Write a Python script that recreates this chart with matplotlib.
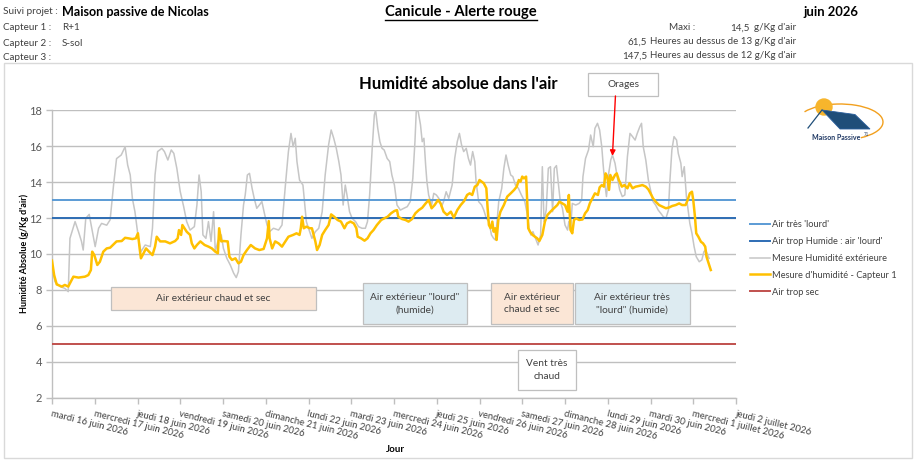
import matplotlib
matplotlib.use("Agg")
import matplotlib.pyplot as plt
from matplotlib.patches import Rectangle, Polygon, Circle, Arc

plt.rcParams['font.family'] = ['Lato', 'DejaVu Sans']

# ---------------- data ----------------
day_labels = ["mardi 16 juin 2026", "mercredi 17 juin 2026", "jeudi 18 juin 2026",
              "vendredi 19 juin 2026", "samedi 20 juin 2026", "dimanche 21 juin 2026",
              "lundi 22 juin 2026", "mardi 23 juin 2026", "mercredi 24 juin 2026",
              "jeudi 25 juin 2026", "vendredi 26 juin 2026", "samedi 27 juin 2026",
              "dimanche 28 juin 2026", "lundi 29 juin 2026", "mardi 30 juin 2026",
              "mercredi 1 juillet 2026", "jeudi 2 juillet 2026"]
y_ticks = [2, 4, 6, 8, 10, 12, 14, 16, 18]

# exterior humidity (time in days since 16 juin 00:00)
ext_days = [0.00, 0.07, 0.19, 0.30, 0.38, 0.42, 0.54, 0.62, 0.69, 0.73, 0.79, 0.87, 0.93,
            1.01, 1.09, 1.16, 1.28, 1.36, 1.44, 1.51, 1.62, 1.71, 1.77, 1.83, 1.88, 1.94,
            2.02, 2.08, 2.18, 2.30, 2.35, 2.41, 2.47, 2.57, 2.63, 2.71, 2.79, 2.85, 2.92,
            3.00, 3.08, 3.15, 3.23, 3.33, 3.39, 3.44, 3.49, 3.53, 3.60, 3.66, 3.72, 3.78,
            3.82, 3.88, 3.96,
            4.01, 4.09, 4.17, 4.25, 4.31, 4.36, 4.42, 4.48, 4.52, 4.57, 4.62, 4.68, 4.73,
            4.79, 4.85, 4.91, 4.96, 5.03, 5.09, 5.18, 5.30, 5.38, 5.46, 5.53, 5.59, 5.64,
            5.69, 5.73, 5.79, 5.87, 5.95, 6.00, 6.08, 6.16, 6.24, 6.32, 6.39, 6.47, 6.53,
            6.59, 6.65, 6.71, 6.76, 6.81, 6.86, 6.90, 6.96, 7.02, 7.10, 7.17, 7.25, 7.33,
            7.38, 7.43, 7.49, 7.54, 7.57, 7.62, 7.67, 7.72, 7.77, 7.84, 7.90, 7.95, 8.01,
            8.07, 8.15, 8.23, 8.31, 8.38, 8.44, 8.49, 8.52, 8.56, 8.62, 8.66, 8.70, 8.74,
            8.77, 8.81, 8.88, 8.93, 8.99, 9.05, 9.11, 9.16, 9.22, 9.28, 9.36, 9.42, 9.48,
            9.53, 9.58, 9.63, 9.69, 9.74, 9.79, 9.84, 9.89, 9.92, 9.98, 10.05, 10.10,
            10.16, 10.22, 10.28, 10.33, 10.37, 10.41, 10.45, 10.52, 10.57, 10.62, 10.67,
            10.73, 10.78, 10.84, 10.91, 10.98, 11.06, 11.12, 11.16, 11.20, 11.25, 11.31,
            11.37, 11.43, 11.47, 11.51, 11.56, 11.61, 11.66, 11.71, 11.75, 11.80, 11.84,
            11.89, 11.94, 12.00, 12.06, 12.09,
            12.13, 12.17, 12.25, 12.33, 12.39, 12.42, 12.48, 12.55, 12.60, 12.66, 12.70,
            12.76, 12.81, 12.86, 12.89, 12.93, 12.97, 13.01, 13.07, 13.11, 13.17, 13.22,
            13.28, 13.34, 13.40, 13.46, 13.52, 13.58, 13.64, 13.69, 13.75, 13.79, 13.83,
            13.89, 13.95, 14.00, 14.06, 14.12, 14.18, 14.24, 14.30, 14.36, 14.42, 14.45,
            14.50, 14.55, 14.61, 14.65, 14.71, 14.74, 14.79, 14.84, 14.89, 14.92, 14.97,
            15.02, 15.07, 15.14, 15.20, 15.25, 15.29, 15.37]
ext_values = [9.3, 8.46, 8.19, 8.09, 7.91, 10.87, 11.8, 11.24, 10.7, 10.22, 11.98, 12.2, 11.43,
              10.41, 11.43, 11.7, 11.6, 11.9, 13.83, 15.3, 15.5, 15.96, 14.94, 14.39, 13.09, 12.35,
              10.87, 10.13, 10.5, 10.41, 11.43, 14.39, 15.69, 15.87, 15.69, 15.22, 15.78, 15.59, 14.76,
              13.46, 12.63, 11.8, 11.33, 11.52, 12.72, 14.39, 13.46, 11.06, 10.87, 11.8, 10.7, 12.35,
              10.13, 10.7, 11.06,
              10.31, 9.76, 9.39, 8.93, 8.69, 9.02, 11.06, 12.72, 13.28, 14.39, 14.48, 13.65, 13.09,
              12.54, 12.72, 12.91, 12.35, 11.61, 11.24, 11.43, 11.33, 11.61, 13.83, 15.69, 16.7, 15.96,
              16.43, 15.13, 14.11, 13.83, 11.8, 11.43, 10.87, 11.24, 11.43, 12.35, 14.39, 16.06, 16.89,
              16.43, 15.87, 15.13, 14.39, 12.72, 13.83, 13.28, 12.35, 11.98, 11.8, 11.52, 11.43, 11.43,
              11.8, 13.28, 15.87, 17.72, 18.0, 16.98, 16.24, 15.87, 15.78, 15.31, 15.13, 14.39, 13.83,
              12.72, 12.44, 12.54, 12.63, 12.91, 14.2, 16.24, 17.91, 18.0, 17.17, 16.24, 16.43, 14.94,
              14.02, 13.28, 12.72, 13.37, 13.28, 13.09, 12.63, 12.91, 13.46, 13.09, 13.83, 15.31, 16.24,
              16.7, 16.06, 15.69, 15.87, 15.31, 14.94, 15.69, 15.13, 14.02, 12.91, 12.72, 12.44,
              11.98, 11.8, 11.06, 10.87, 10.78, 11.8, 12.91, 13.65, 14.76, 15.5, 14.94,
              14.39, 14.3, 13.83, 13.65, 13.28, 12.91, 12.17, 11.43, 11.06, 11.24, 10.87,
              10.5, 11.06, 14.85, 11.8, 12.44, 14.76, 14.85, 12.35, 14.76, 14.91, 14.02,
              12.91, 12.54, 11.61, 11.33, 11.8,
              11.33, 12.81, 12.72, 12.81, 13.0, 14.3, 15.31, 15.78, 16.61, 15.96, 16.98,
              17.26, 16.89, 15.96, 15.04, 13.93, 13.19, 14.3, 15.22, 15.5, 15.04, 14.3,
              13.56, 13.19, 13.28, 15.41, 16.7, 16.52, 16.33, 16.7, 17.07, 17.26, 15.96,
              15.22, 14.11, 13.56, 12.91, 12.72, 12.44, 12.26, 12.07, 11.98, 12.44, 13.93,
              15.78, 16.52, 16.33, 15.59, 15.04, 14.3, 14.85, 13.19, 12.26, 11.7, 11.15,
              10.41, 9.85, 9.57, 9.67, 10.13, 10.22, 9.76]

# sensor 1 humidity
c1_days = [0.00, 0.05, 0.11, 0.23, 0.30, 0.38, 0.42, 0.50, 0.62, 0.77, 0.85, 0.91, 0.94, 0.99,
           1.06, 1.12, 1.20, 1.28, 1.36, 1.44, 1.51, 1.63, 1.71, 1.79, 1.88, 1.96, 2.01, 2.05,
           2.08, 2.14, 2.20, 2.27, 2.35, 2.41, 2.45, 2.53, 2.65, 2.76, 2.88, 2.94, 2.97, 3.02,
           3.05, 3.10, 3.15, 3.23, 3.27, 3.33, 3.39, 3.47, 3.57, 3.66, 3.74, 3.82, 3.88, 3.91,
           3.96,
           4.01, 4.11, 4.15, 4.21, 4.29, 4.36, 4.42, 4.48, 4.56, 4.65, 4.75, 4.85, 4.95, 5.03,
           5.07, 5.09, 5.15, 5.22, 5.30, 5.38, 5.46, 5.53, 5.64, 5.72, 5.79, 5.82, 5.85, 5.89,
           5.95, 6.03, 6.08, 6.12, 6.16, 6.20, 6.26, 6.32, 6.39, 6.47, 6.53, 6.60, 6.68, 6.76,
           6.84, 6.90, 6.98, 7.06, 7.12, 7.15, 7.23, 7.31, 7.38, 7.45, 7.52, 7.60, 7.70, 7.77,
           7.85, 7.93, 8.01, 8.07,
           8.10, 8.19, 8.27, 8.34, 8.42, 8.50, 8.58, 8.66, 8.74, 8.81, 8.88, 8.95, 9.03, 9.09,
           9.16, 9.24, 9.33, 9.40, 9.48, 9.56, 9.64, 9.71, 9.77, 9.83, 9.89, 9.95, 10.00, 10.05,
           10.10, 10.16, 10.19, 10.22, 10.26, 10.30, 10.33, 10.37, 10.40, 10.44, 10.49, 10.57,
           10.65, 10.73, 10.81, 10.87, 10.92, 10.96, 11.00, 11.04, 11.09, 11.12, 11.14, 11.18,
           11.24, 11.30, 11.35, 11.40, 11.47, 11.53, 11.59, 11.66, 11.74, 11.82, 11.87, 11.94,
           12.00, 12.06, 12.09,
           12.13, 12.17, 12.21, 12.26, 12.33, 12.41, 12.47, 12.53, 12.58, 12.64, 12.70, 12.77,
           12.81, 12.86, 12.91, 12.95, 12.99, 13.03, 13.06, 13.11, 13.17, 13.21, 13.26, 13.33,
           13.39, 13.46, 13.51, 13.58, 13.65, 13.73, 13.81, 13.89, 13.95, 14.00, 14.06, 14.12,
           14.20, 14.28, 14.36, 14.44, 14.51, 14.59, 14.67, 14.74, 14.82, 14.87, 14.92, 14.97,
           15.00, 15.04, 15.07, 15.12, 15.18, 15.23, 15.28, 15.31, 15.36, 15.41]
c1_values = [9.63, 8.83, 8.31, 8.19, 8.28, 8.19, 8.37, 8.74, 8.69, 8.74, 8.83, 9.11, 10.13, 9.94,
             9.39, 9.57, 10.13, 10.31, 10.35, 10.54, 10.7, 10.72, 10.9, 10.87, 10.83, 10.87, 11.15, 10.31,
             9.76, 10.04, 10.31, 10.13, 9.94, 10.41, 10.96, 10.7, 10.7, 10.59, 10.72, 10.87, 11.33, 11.06,
             11.61, 11.43, 11.24, 11.06, 10.59, 10.31, 10.5, 10.7, 10.5, 10.41, 10.31, 10.13, 10.04, 11.43,
             10.7,
             10.72, 10.7, 9.85, 9.67, 9.76, 9.48, 9.57, 9.94, 10.22, 10.5, 10.31, 10.22, 10.28, 10.87,
             11.83, 10.87, 10.31, 10.7, 10.59, 10.41, 10.7, 10.96, 11.06, 11.15, 11.06, 11.43, 12.07, 11.43,
             11.52, 11.43, 11.43, 11.06, 10.7, 10.22, 10.5, 11.06, 11.33, 11.61, 12.2, 12.07, 11.89, 11.8,
             11.43, 11.7, 11.8, 11.7, 11.43, 10.96, 10.87, 10.74, 10.87, 11.15, 11.33, 11.61, 11.89, 11.98,
             12.07, 12.26, 12.39, 12.44,
             12.07, 11.94, 11.89, 11.8, 11.94, 12.26, 12.44, 12.57, 12.81, 13.0, 12.54, 12.72, 13.0, 12.81,
             12.35, 12.17, 12.35, 12.02, 12.44, 12.72, 12.94, 13.28, 13.37, 13.28, 13.74, 13.83, 14.11, 14.02,
             13.93, 13.65, 12.54, 11.61, 11.43, 11.8, 11.24, 11.43, 10.78, 11.89, 12.35, 12.72,
             13.19, 13.37, 13.56, 13.74, 14.11, 14.02, 14.3, 14.2, 14.3, 12.72, 11.43, 11.24,
             11.06, 10.96, 10.87, 10.72, 11.06, 11.8, 12.17, 12.35, 12.54, 12.72, 12.91, 12.81,
             12.72, 12.35, 13.28,
             11.33, 11.15, 11.89, 11.98, 11.89, 11.92, 12.26, 12.44, 12.81, 13.09, 13.37, 13.28,
             13.7, 13.83, 13.74, 14.48, 14.3, 13.56, 14.39, 14.11, 14.39, 14.48, 14.11, 13.74,
             13.83, 13.65, 13.93, 13.65, 13.74, 13.78, 13.83, 13.74, 13.59, 13.37, 13.09, 12.91,
             12.72, 12.63, 12.54, 12.59, 12.67, 12.72, 12.81, 12.72, 12.72, 13.0, 13.37, 13.46,
             13.0, 12.07, 11.15, 10.96, 10.68, 10.59, 10.41, 9.85, 9.48, 9.11]

threshold_heavy = 13.0     # Air très 'lourd'
threshold_humid = 12.0     # Air trop Humide
threshold_dry = 5.0        # Air trop sec

# ---------------- figure ----------------
W, H = 920, 469
fig = plt.figure(figsize=(W / 100, H / 100), dpi=100)
fig.patch.set_facecolor('white')

def px_rect(x0, y0, x1, y1):
    return [x0 / W, 1 - y1 / H, (x1 - x0) / W, (y1 - y0) / H]

ax = fig.add_axes(px_rect(52, 110, 736, 398))
ax.set_xlim(0, 16)
ax.set_ylim(2, 18)

grid_c = '#BFBFBF'
ax.set_yticks(y_ticks)
ax.grid(axis='y', color=grid_c, lw=1.0)
ax.set_axisbelow(True)
for s in ['top', 'right']:
    ax.spines[s].set_visible(False)
for s in ['left', 'bottom']:
    ax.spines[s].set_color(grid_c)
    ax.spines[s].set_linewidth(1.0)
ax.tick_params(axis='both', colors=grid_c, length=4, width=1.0, direction='out')
ax.tick_params(axis='y', labelcolor='#595959', labelsize=8, pad=3)
ax.set_xticks(range(len(day_labels)))
ax.set_xticklabels(day_labels, rotation=-14, ha='left', va='top',
                   rotation_mode='anchor', fontsize=6.8, color='#404040')
ax.tick_params(axis='x', pad=4)

l_heavy = ax.axhline(threshold_heavy, color='#5B9BD5', lw=1.4, zorder=3, label="Air très 'lourd'")
l_humid = ax.axhline(threshold_humid, color='#2E6DB4', lw=1.4, zorder=3, label="Air trop Humide : air 'lourd'")
l_ext, = ax.plot(ext_days, ext_values, color='#C6C6C6', lw=1.1, zorder=2, label='Mesure Humidité extérieure')
l_c1, = ax.plot(c1_days, c1_values, color='#FFC000', lw=1.8, zorder=4, label="Mesure d'humidité - Capteur 1")
l_dry = ax.axhline(threshold_dry, color='#C0504D', lw=1.4, zorder=3, label='Air trop sec')

leg = ax.legend(handles=[l_heavy, l_humid, l_ext, l_c1, l_dry],
                loc='upper left', bbox_to_anchor=(750 / W, 1 - 220 / H),
                bbox_transform=fig.transFigure, frameon=False, fontsize=6.7,
                handlelength=2.2, handletextpad=0.15, labelspacing=0.85,
                borderpad=0, borderaxespad=0)
for t in leg.get_texts():
    t.set_color('#404040')

ax.set_ylabel("Humidité Absolue (g/Kg d'air)", fontsize=6.5, fontweight='bold', color='#000000')
ax.yaxis.set_label_coords((29 - 52) / 684, (398 - 253) / 288)
ax.set_xlabel("Jour", fontsize=7, fontweight='bold', color='#000000')
ax.xaxis.set_label_coords((395 - 52) / 684, -(445 - 398) / 288)

# annotation boxes (x0, x1, y0, y1 in data units)
boxes = [
    (1.38, 6.18, 6.89, 8.17, '#FBE6D6', "Air extérieur chaud et sec"),
    (7.27, 9.71, 6.11, 8.39, '#DDEBF1', "Air extérieur \"lourd\"\n(humide)"),
    (10.27, 12.19, 6.11, 8.39, '#FBE6D6', "Air extérieur\nchaud et sec"),
    (12.23, 14.92, 6.11, 8.39, '#DDEBF1', "Air extérieur très\n\"lourd\" (humide)"),
    (10.90, 12.26, 2.44, 4.67, '#FFFFFF', "Vent très\nchaud"),
    (12.54, 14.18, 18.78, 20.06, '#FFFFFF', "Orages"),
]
for x0, x1, y0, y1, fc, txt in boxes:
    ax.add_patch(Rectangle((x0, y0), x1 - x0, y1 - y0, facecolor=fc, edgecolor='#BFBFBF',
                           lw=0.9, zorder=6, clip_on=False))
    ax.text((x0 + x1) / 2, (y0 + y1) / 2, txt, ha='center', va='center', fontsize=7.3,
            color='#404040', zorder=7, linespacing=1.5, clip_on=False)

ax.annotate('', xy=(13.11, 15.45), xytext=(13.18, 18.78), xycoords='data',
            arrowprops=dict(arrowstyle='-|>', color='#FF0000', lw=1.0, mutation_scale=8,
                            shrinkA=0, shrinkB=0),
            annotation_clip=False, zorder=8)

# ---------------- overlay in pixel coords ----------------
ov = fig.add_axes([0, 0, 1, 1], zorder=10)
ov.set_xlim(0, W)
ov.set_ylim(H, 0)
ov.axis('off')
ov.patch.set_alpha(0)

ov.add_patch(Rectangle((4, 63), 908, 395, fill=False, edgecolor='#D9D9D9', lw=1.0))

ov.text(458, 84, "Humidité absolue dans l'air", fontsize=12, fontweight='bold',
        ha='center', va='center')

hc = '#404040'
ov.text(3, 12, "Suivi projet :", fontsize=7.2, color=hc, va='center')
ov.text(62, 12, "Maison passive de Nicolas", fontsize=9.1, fontweight='bold', va='center')
title_t = ov.text(461, 12, "Canicule - Alerte rouge", fontsize=10.6, fontweight='bold',
                  va='center', ha='center')
ov.text(803, 12, "juin 2026", fontsize=9.4, fontweight='bold', va='center')
for yy, lab, val in [(28, "Capteur 1 :", "R+1"), (43, "Capteur 2 :", "S-sol"), (57, "Capteur 3 :", "")]:
    ov.text(3, yy, lab, fontsize=7.1, color=hc, va='center')
    if val:
        ov.text(62, yy, val, fontsize=7.1, color=hc, va='center')
ov.text(669, 28, "Maxi :", fontsize=7.1, color=hc, va='center')
ov.text(750, 28, "14,5", fontsize=7.1, color=hc, va='center', ha='right')
ov.text(754, 28, "g/Kg d'air", fontsize=7.1, color=hc, va='center')
ov.text(647, 42, "61,5", fontsize=7.1, color=hc, va='center', ha='right')
ov.text(650, 42, "Heures au dessus de 13 g/Kg d'air", fontsize=7.05, color=hc, va='center')
ov.text(647, 56, "147,5", fontsize=7.1, color=hc, va='center', ha='right')
ov.text(650, 56, "Heures au dessus de 12 g/Kg d'air", fontsize=7.05, color=hc, va='center')

# underline the main heading
fig.canvas.draw()
bb = title_t.get_window_extent()
ov.plot([bb.x0, bb.x1], [20, 20], color='black', lw=1.0)

# logo
ov.add_patch(Arc((840, 122), 86, 36, theta1=196, theta2=37, color='#F2A01E', lw=1.0, zorder=2))
ov.add_patch(Circle((824, 107), 8, color='#F7B52C', zorder=3))
ov.add_patch(Polygon([(822, 110), (855, 114.5), (870, 129), (840, 129)], closed=True,
                     facecolor='#1F4E79', edgecolor='#2A5F9E', lw=0.6, zorder=4))
ov.plot([822, 808], [110, 128], color='#1F4E79', lw=0.9, zorder=4)
ov.text(836.5, 138, "Maison Passive", fontsize=5.0, fontweight='bold', color='#1F3864',
        ha='center', va='center', zorder=5)
ov.text(866, 134, "71", fontsize=3.3, color='#1F3864', ha='center', va='center', zorder=5)

fig.savefig('out.png', dpi=100)
